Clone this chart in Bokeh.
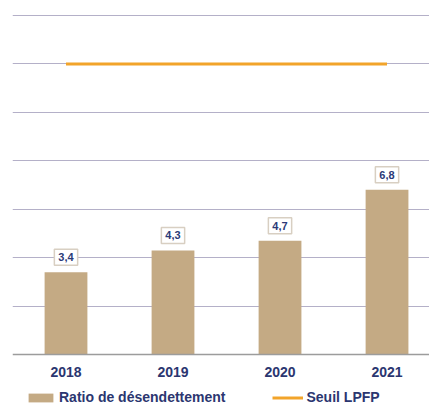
from bokeh.plotting import figure
from bokeh.models import (ColumnDataSource, Range1d, FixedTicker,
                          Legend, LegendItem, Span)
from bokeh.core.properties import value
from bokeh.embed import file_html
from bokeh.resources import INLINE

years = ["2018", "2019", "2020", "2021"]
ratio = [3.4, 4.3, 4.7, 6.8]
ratio_labels = ["3,4", "4,3", "4,7", "6,8"]
seuil = 12
y_ticks = [2, 4, 6, 8, 10, 12, 14]

idx = list(range(len(years)))
src = ColumnDataSource(dict(x=idx, ratio=ratio, lab=ratio_labels,
                            base=[0] * len(years), year=years))

p = figure(width=429, height=405, output_backend="svg", toolbar_location=None,
           x_range=Range1d(-0.5, 3.397), y_range=Range1d(-2.106, 14.083),
           min_border_left=12, min_border_right=0, min_border_top=13,
           min_border_bottom=0)
p.outline_line_color = None
p.background_fill_color = "white"
p.border_fill_color = "white"

bars = p.vbar(x="x", top="ratio", bottom="base", width=0.4, source=src,
              fill_color="#c4aa84", line_color=None)

line = p.line(x=[idx[0], idx[-1]], y=[seuil, seuil], line_color="#f2a42a",
              line_width=3)

# baseline (value 0)
p.add_layout(Span(location=0, dimension="width", line_color="#9c9c9c",
                  line_width=1.5))

# value labels above the bars
p.text(x="x", y="ratio", text="lab", source=src, y_offset=-15,
       text_align="center", text_baseline="middle",
       text_font=value("Liberation Sans"), text_font_style="bold",
       text_font_size="11px", text_color="#2b3a78",
       background_fill_color="white",
       border_line_color="#d8cfc2", border_line_width=1.5,
       padding=4)

# category labels under the baseline
p.text(x="x", y="base", text="year", source=src, y_offset=17,
       text_align="center", text_baseline="middle",
       text_font=value("Liberation Sans"), text_font_style="bold",
       text_font_size="14px", text_color="#2b3670")

p.yaxis.visible = False
p.xaxis.visible = False
p.ygrid.ticker = FixedTicker(ticks=y_ticks)
p.ygrid.grid_line_color = "#b4b0c8"
p.ygrid.grid_line_width = 1
p.xgrid.visible = False

legend = Legend(items=[LegendItem(label="Ratio de désendettement", renderers=[bars]),
                       LegendItem(label="Seuil LPFP", renderers=[line])],
                orientation="horizontal", location=(13, 0),
                label_text_font="Liberation Sans", label_text_font_style="bold",
                label_text_font_size="14px", label_text_color="#2b3670",
                glyph_width=31, glyph_height=11, spacing=47, padding=0,
                margin=0, border_line_color=None, background_fill_alpha=0,
                label_standoff=3)
p.add_layout(legend)

open("out.html", "w").write(file_html(p, INLINE))
